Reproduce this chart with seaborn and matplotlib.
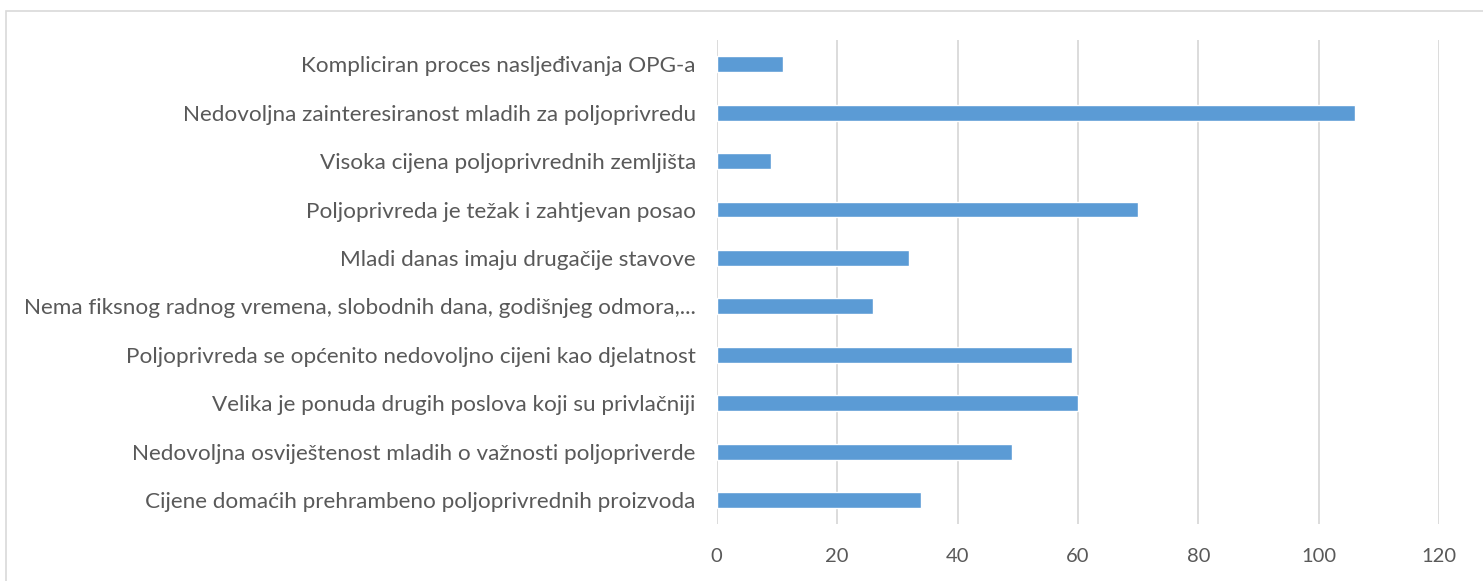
import matplotlib
matplotlib.use("Agg")
import matplotlib.pyplot as plt
from matplotlib.patches import Rectangle
import seaborn as sns
import pandas as pd

categories = [
    "Kompliciran proces nasljeđivanja OPG-a",
    "Nedovoljna zainteresiranost mladih za poljoprivredu",
    "Visoka cijena poljoprivrednih zemljišta",
    "Poljoprivreda je težak i zahtjevan posao",
    "Mladi danas imaju drugačije stavove",
    "Nema fiksnog radnog vremena, slobodnih dana, godišnjeg odmora,...",
    "Poljoprivreda se općenito nedovoljno cijeni kao djelatnost",
    "Velika je ponuda drugih poslova koji su privlačniji",
    "Nedovoljna osviještenost mladih o važnosti poljopriverde",
    "Cijene domaćih prehrambeno poljoprivrednih proizvoda",
]
values = [11, 106, 9, 70, 32, 26, 59, 60, 49, 34]
x_ticks = [0, 20, 40, 60, 80, 100, 120]

sns.set_theme(style="white")
plt.rcParams['font.family'] = ['Lato', 'DejaVu Sans']

W, H = 1483, 581
fig = plt.figure(figsize=(W / 100, H / 100), dpi=100)
fig.patch.set_facecolor("white")

left, right, top, bottom = 716.7, 1439.3, 40.0, 524.3
ax = fig.add_axes([left / W, (H - bottom) / H, (right - left) / W, (bottom - top) / H])

df = pd.DataFrame({"cat": categories, "val": values})
sns.barplot(data=df, x="val", y="cat", order=categories, color="#5b9bd5",
            width=0.33, saturation=1, ax=ax, zorder=3)

ax.set_xlim(0, 120)
ax.set_xticks(x_ticks)
ax.set_xticklabels([str(t) for t in x_ticks])
ax.set_xlabel("")
ax.set_ylabel("")
ax.xaxis.grid(True, color="#d9d9d9", linewidth=1.3, zorder=0)
ax.yaxis.grid(False)
ax.set_axisbelow(True)
for s in ax.spines.values():
    s.set_visible(False)
ax.tick_params(axis="y", length=0, pad=15, labelsize=16.2, labelcolor="#595959")
ax.tick_params(axis="x", length=0, pad=17, labelsize=14.5, labelcolor="#595959")

# chart border
border = Rectangle((6.5 / W, -0.1), 1.2, (H - 11) / H + 0.1, transform=fig.transFigure,
                   fill=False, edgecolor="#d9d9d9", linewidth=1.2, clip_on=False)
fig.patches.append(border)

fig.savefig("out.png", dpi=100, facecolor="white")
